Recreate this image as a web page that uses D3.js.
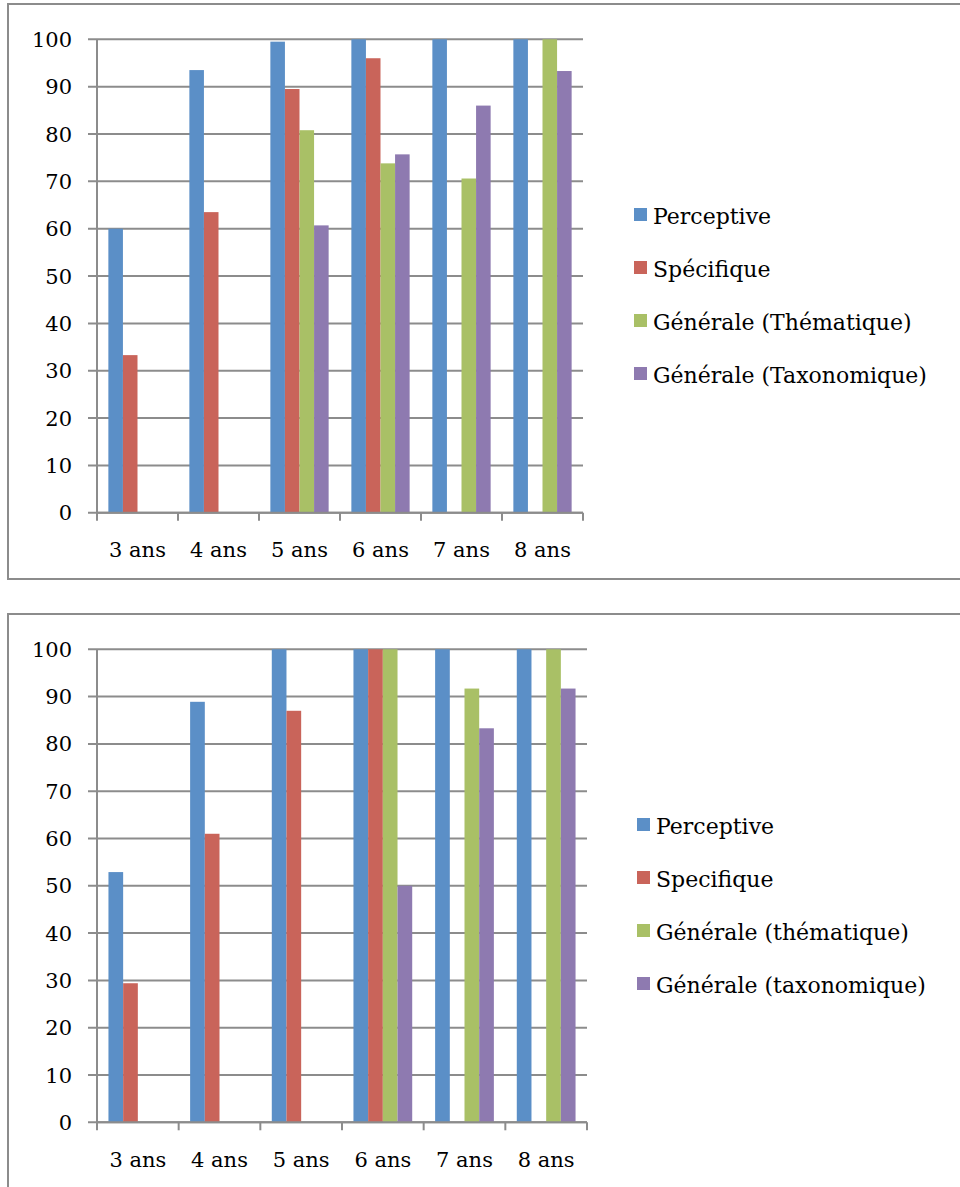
<!DOCTYPE html>
<html>
<head>
<meta charset="utf-8">
<script src="https://cdn.jsdelivr.net/npm/d3@7"></script>
<style>
  body { margin: 0; background: #fff; }
  svg { display: block; }
  text { font-family: "DejaVu Serif", serif; fill: #000; }
</style>
</head>
<body>
<div id="chart"></div>
<script>
// Categories (ages)
const ages = ['3 ans', '4 ans', '5 ans', '6 ans', '7 ans', '8 ans'];
const yTicks = [0, 10, 20, 30, 40, 50, 60, 70, 80, 90, 100];

// Top chart series
const topNames = ['Perceptive', 'Spécifique', 'Générale (Thématique)', 'Générale (Taxonomique)'];
const topPerceptive = [60, 93.5, 99.5, 100, 100, 100];
const topSpecifique = [33.3, 63.5, 89.5, 96, 0, 0];
const topThematique = [0, 0, 80.8, 73.8, 70.6, 100];
const topTaxonomique = [0, 0, 60.7, 75.7, 86, 93.3];

// Bottom chart series
const botNames = ['Perceptive', 'Specifique', 'Générale (thématique)', 'Générale (taxonomique)'];
const botPerceptive = [52.9, 88.9, 100, 100, 100, 100];
const botSpecifique = [29.4, 61, 87, 100, 0, 0];
const botThematique = [0, 0, 0, 100, 91.7, 100];
const botTaxonomique = [0, 0, 0, 50, 83.3, 91.7];

const colors = ['#5b8fc7', '#c9645a', '#a9c066', '#8e7ab0'];

const svg = d3.select('#chart').append('svg')
    .attr('width', 960)
    .attr('height', 1187);

// Draws one framed bar chart with its legend
function drawChart(cfg) {
    const g = svg.append('g');

    // outer frame
    g.append('rect')
        .attr('x', cfg.box[0]).attr('y', cfg.box[1])
        .attr('width', cfg.box[2]).attr('height', cfg.box[3])
        .attr('fill', 'none')
        .attr('stroke', '#8c8c8c')
        .attr('stroke-width', 2);

    const x = d3.scaleBand()
        .domain(ages)
        .range([cfg.left, cfg.right]);

    const x1 = d3.scaleBand()
        .domain(d3.range(cfg.series.length))
        .range([0, x.bandwidth()])
        .paddingOuter(0.78)
        .paddingInner(0);

    const y = d3.scaleLinear()
        .domain([0, 100])
        .range([cfg.bottom, cfg.top]);

    // horizontal gridlines (extend left as ticks)
    g.selectAll('.grid')
        .data(yTicks)
        .enter()
        .append('line')
        .attr('x1', cfg.left - 9)
        .attr('x2', cfg.right)
        .attr('y1', d => y(d))
        .attr('y2', d => y(d))
        .attr('stroke', '#8c8c8c')
        .attr('stroke-width', 2);

    // y tick labels
    g.selectAll('.ylab')
        .data(yTicks)
        .enter()
        .append('text')
        .attr('x', cfg.left - 25)
        .attr('y', d => y(d))
        .attr('dy', '0.36em')
        .attr('text-anchor', 'end')
        .style('font-size', '21px')
        .text(d => d);

    // bars
    const groups = g.selectAll('.grp')
        .data(ages)
        .enter()
        .append('g')
        .attr('transform', d => `translate(${x(d)},0)`);

    groups.selectAll('rect')
        .data((d, i) => cfg.series.map((s, k) => ({ k: k, v: s[i] })))
        .enter()
        .append('rect')
        .attr('x', d => x1(d.k))
        .attr('width', x1.bandwidth())
        .attr('y', d => y(d.v))
        .attr('height', d => y(0) - y(d.v))
        .attr('fill', d => colors[d.k]);

    // axes lines
    g.append('line')
        .attr('x1', cfg.left).attr('x2', cfg.left)
        .attr('y1', cfg.top).attr('y2', cfg.bottom + 8)
        .attr('stroke', '#8c8c8c').attr('stroke-width', 2);

    g.append('line')
        .attr('x1', cfg.left).attr('x2', cfg.right)
        .attr('y1', cfg.bottom).attr('y2', cfg.bottom)
        .attr('stroke', '#8c8c8c').attr('stroke-width', 2);

    // category boundary ticks
    g.selectAll('.xtick')
        .data(ages.slice(1).map(a => x(a)).concat([cfg.right]))
        .enter()
        .append('line')
        .attr('x1', d => d).attr('x2', d => d)
        .attr('y1', cfg.bottom).attr('y2', cfg.bottom + 8)
        .attr('stroke', '#8c8c8c').attr('stroke-width', 2);

    // category labels
    g.selectAll('.xlab')
        .data(ages)
        .enter()
        .append('text')
        .attr('x', d => x(d) + x.bandwidth() / 2)
        .attr('y', cfg.bottom + 37)
        .attr('dy', '0.36em')
        .attr('text-anchor', 'middle')
        .style('font-size', '21px')
        .text(d => d);

    // legend
    const leg = g.selectAll('.leg')
        .data(cfg.names)
        .enter()
        .append('g')
        .attr('transform', (d, i) => `translate(${cfg.legX},${cfg.legY + i * 53})`);

    leg.append('rect')
        .attr('x', 0).attr('y', -7)
        .attr('width', 13).attr('height', 13)
        .attr('fill', (d, i) => colors[i]);

    leg.append('text')
        .attr('x', 19)
        .attr('y', 1)
        .attr('dy', '0.36em')
        .style('font-size', '22px')
        .text(d => d);
}

drawChart({
    box: [8, 4, 962, 575],
    left: 97, right: 583, top: 39.3, bottom: 512.8,
    series: [topPerceptive, topSpecifique, topThematique, topTaxonomique],
    names: topNames,
    legX: 634, legY: 215
});

drawChart({
    box: [8, 614, 962, 600],
    left: 97, right: 587, top: 649.3, bottom: 1122.3,
    series: [botPerceptive, botSpecifique, botThematique, botTaxonomique],
    names: botNames,
    legX: 637, legY: 825
});
</script>
</body>
</html>
